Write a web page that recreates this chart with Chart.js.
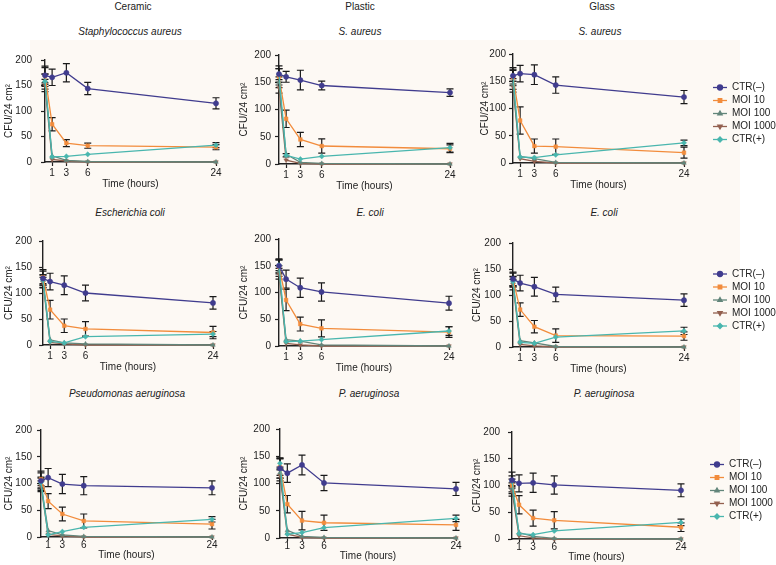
<!DOCTYPE html>
<html>
<head>
<meta charset="utf-8">
<script src="https://cdn.jsdelivr.net/npm/chart.js@4.4.1/dist/chart.umd.min.js"></script>
<style>
  body { margin: 0; width: 776px; height: 565px; position: relative; background: #fff; overflow: hidden;
         font-family: "Liberation Sans", Arial, sans-serif; }
  .tint { position: absolute; left: 30px; top: 40px; width: 710px; height: 525px; background: #fdf9f4; }
  .lbl { position: absolute; font-size: 10px; color: #222; transform: translate(-50%, -50%); white-space: nowrap; }
  .ttl { font-style: italic; }
  canvas { position: absolute; }
</style>
</head>
<body>
<div class="tint"></div>
<div id="root"></div>
<script>
const times = [0, 1, 3, 6, 24];
const xTicks = [1, 3, 6, 24];
const yTicks = [0, 50, 100, 150, 200];
const seriesNames = ["CTR(–)", "MOI 10", "MOI 100", "MOI 1000", "CTR(+)"];
const surfaces = ["Ceramic", "Plastic", "Glass"];
const organismTitles = [
    ["Staphylococcus aureus", "S. aureus", "S. aureus"],
    ["Escherichia coli", "E. coli", "E. coli"],
    ["Pseudomonas aeruginosa", "P. aeruginosa", "P. aeruginosa"],
];

// rows: CTR(-), MOI 10, MOI 100, MOI 1000, CTR(+); columns follow `times`
const ceramicSaureus = [[170, 166, 175, 144, 115], [170, 74, 37, 32, 29], [160, 12, 3, 1, 0], [150, 5, 2, 0, 0], [158, 10, 11, 15, 33]];
const ceramicSaureusErr = [[18, 16, 18, 12, 11], [15, 13, 7, 5, 5], [12, 0, 0, 0, 0], [12, 0, 0, 0, 0], [15, 0, 0, 0, 5]];
const plasticSaureus = [[165, 160, 154, 144, 131], [160, 83, 45, 33, 28], [150, 18, 3, 1, 0], [140, 7, 1, 0, 0], [165, 16, 9, 14, 30]];
const plasticSaureusErr = [[15, 10, 18, 8, 7], [15, 16, 13, 13, 7], [10, 0, 0, 0, 0], [10, 0, 0, 0, 0], [10, 3, 0, 0, 8]];
const glassSaureus = [[160, 164, 162, 143, 121], [157, 78, 31, 30, 19], [145, 12, 8, 1, 0], [140, 8, 3, 0, 0], [160, 11, 10, 15, 37]];
const glassSaureusErr = [[15, 15, 18, 15, 12], [15, 25, 13, 14, 10], [10, 0, 0, 0, 0], [10, 0, 0, 0, 0], [10, 0, 0, 0, 5]];

const ceramicEcoli = [[128, 122, 115, 100, 81], [130, 68, 37, 31, 24], [125, 10, 4, 2, 0], [120, 5, 2, 0, 0], [125, 7, 4, 16, 21]];
const ceramicEcoliErr = [[17, 16, 18, 15, 12], [12, 18, 13, 14, 12], [10, 0, 0, 0, 0], [10, 0, 0, 0, 0], [10, 0, 0, 0, 5]];
const plasticEcoli = [[150, 125, 109, 101, 80], [148, 86, 41, 33, 26], [140, 12, 9, 2, 0], [135, 5, 2, 0, 0], [151, 8, 9, 12, 28]];
const plasticEcoliErr = [[13, 17, 18, 17, 13], [13, 20, 13, 16, 10], [10, 0, 0, 0, 0], [10, 0, 0, 0, 0], [10, 0, 0, 0, 8]];
const glassEcoli = [[131, 123, 116, 101, 90], [130, 72, 39, 22, 21], [125, 12, 8, 1, 0], [120, 5, 2, 0, 0], [126, 9, 7, 19, 31]];
const glassEcoliErr = [[13, 15, 18, 14, 12], [12, 13, 12, 13, 8], [10, 0, 0, 0, 0], [10, 0, 0, 0, 0], [10, 0, 0, 0, 7]];

const ceramicPaer = [[105, 111, 99, 96, 92], [108, 67, 43, 30, 24], [100, 12, 4, 1, 0], [95, 5, 2, 0, 0], [102, 4, 10, 18, 33]];
const ceramicPaerErr = [[18, 17, 18, 17, 13], [12, 14, 13, 13, 9], [10, 0, 0, 0, 0], [10, 0, 0, 0, 0], [10, 0, 0, 0, 5]];
const plasticPaer = [[128, 119, 134, 101, 90], [130, 62, 32, 28, 24], [120, 14, 3, 1, 0], [115, 7, 1, 0, 0], [137, 7, 10, 19, 36]];
const plasticPaerErr = [[18, 17, 18, 14, 12], [15, 16, 17, 14, 10], [10, 0, 0, 0, 0], [10, 0, 0, 0, 0], [10, 0, 0, 0, 6]];
const glassPaer = [[110, 104, 105, 101, 91], [100, 64, 39, 35, 22], [95, 12, 5, 1, 0], [90, 6, 2, 0, 0], [108, 10, 8, 15, 31]];
const glassPaerErr = [[15, 16, 18, 17, 12], [12, 17, 15, 16, 8], [10, 0, 0, 0, 0], [10, 0, 0, 0, 0], [10, 0, 0, 0, 6]];

const panelMeans = [ceramicSaureus, plasticSaureus, glassSaureus, ceramicEcoli, plasticEcoli, glassEcoli, ceramicPaer, plasticPaer, glassPaer];
const panelErrors = [ceramicSaureusErr, plasticSaureusErr, glassSaureusErr, ceramicEcoliErr, plasticEcoliErr, glassEcoliErr, ceramicPaerErr, plasticPaerErr, glassPaerErr];

const cores = ["#403c8e", "#f28c3c", "#62857a", "#93604f", "#49b6ae"];
const estilos = ["circle", "rect", "triangle", "triangle", "rectRot"];
const rotacoes = [0, 0, 0, 180, 0];
const ordem = [0, 2, 3, 4, 1]; // teal drawn over the MOI 100/1000 lines

// plot area in page pixels: left, right, top, bottom, y-title centre x, y-label right edge
const caixas = [
    [45, 216, 53, 162, 9, 32], [279, 450, 53, 164, 244, 271], [513, 684, 53, 163, 485, 506],
    [43, 213, 236, 345, 9, 32], [279, 449, 237, 346, 244, 271], [513, 684, 237, 347, 477, 501],
    [41, 212, 427, 537, 9, 32], [280, 456, 425, 538, 244, 270], [512, 681, 426, 539, 477, 500],
];
const offRotulo = [11, 11, 8];
const offTitulo = [22, 22, 18];
const tituloY = [31, 212, 393];
const tituloX = [[130, 360, 600], [130, 370, 604], [127, 369, 604]];
const cabecalhoX = [133, 360, 602];

Chart.defaults.font.family = "'Liberation Sans', Arial, sans-serif";
Chart.defaults.font.size = 10;
Chart.defaults.color = "#222";

const barrasErro = {
    id: "barrasErro",
    beforeDatasetsDraw(chart) {
        const { ctx, scales: { x, y } } = chart;
        ctx.save();
        ctx.strokeStyle = "#1a1a1a";
        ctx.lineWidth = 1.2;
        chart.data.datasets.forEach((ds) => {
            ds.errors.forEach((err, i) => {
                if (!err) return;
                const ponto = ds.data[i];
                const px = x.getPixelForValue(ponto.x);
                const topo = y.getPixelForValue(ponto.y + err);
                const base = y.getPixelForValue(Math.max(ponto.y - err, 0));
                ctx.beginPath();
                ctx.moveTo(px, topo);
                ctx.lineTo(px, base);
                ctx.moveTo(px - 3.5, topo);
                ctx.lineTo(px + 3.5, topo);
                ctx.moveTo(px - 3.5, base);
                ctx.lineTo(px + 3.5, base);
                ctx.stroke();
            });
        });
        ctx.restore();
    },
};

const legendaLateral = {
    id: "legendaLateral",
    afterDraw(chart, args, opts) {
        if (!opts.show) return;
        const { ctx, chartArea } = chart;
        const meio = (chartArea.top + chartArea.bottom) / 2 + 5;
        const x0 = chartArea.right + 29;
        ctx.save();
        chart.data.datasets.forEach((ds, i) => {
            const yy = meio + (i - 2) * 13;
            ctx.strokeStyle = ds.borderColor;
            ctx.lineWidth = 1.3;
            ctx.beginPath();
            ctx.moveTo(x0, yy);
            ctx.lineTo(x0 + 14, yy);
            ctx.stroke();
            ctx.fillStyle = ds.backgroundColor;
            Chart.helpers.drawPoint(ctx, { pointStyle: ds.pointStyle, rotation: ds.pointRotation, radius: 2.5, borderWidth: 0.5 }, x0 + 7, yy);
            ctx.fillStyle = "#222";
            ctx.font = "10px 'Liberation Sans', Arial, sans-serif";
            ctx.textBaseline = "middle";
            ctx.fillText(ds.label, x0 + 19, yy);
        });
        ctx.restore();
    },
};

const root = document.getElementById("root");

function addTexto(texto, x, y, classe) {
    const el = document.createElement("div");
    el.className = classe;
    el.textContent = texto;
    el.style.left = x + "px";
    el.style.top = y + "px";
    root.appendChild(el);
}

surfaces.forEach((s, c) => addTexto(s, cabecalhoX[c], 6, "lbl"));

caixas.forEach((caixa, p) => {
    const linha = Math.floor(p / 3);
    const coluna = p % 3;
    const [esq, dir, topo, base, yTitX, rotDir] = caixa;
    addTexto(organismTitles[linha][coluna], tituloX[linha][coluna], tituloY[linha], "lbl ttl");

    const canvasEsq = yTitX - 6;
    const canvasTopo = topo - 8;
    const larguraY = esq - canvasEsq;
    const padDir = coluna === 2 ? 776 - dir : 12;
    const alturaX = offTitulo[linha] + 6;
    const canvas = document.createElement("canvas");
    canvas.width = dir + padDir - canvasEsq;
    canvas.height = 8 + (base - topo) + alturaX;
    canvas.style.left = canvasEsq + "px";
    canvas.style.top = canvasTopo + "px";
    root.appendChild(canvas);

    const datasets = seriesNames.map((nome, s) => ({
        label: nome,
        data: times.map((t, i) => ({ x: t, y: panelMeans[p][s][i] })),
        errors: panelErrors[p][s],
        order: ordem[s],
        borderColor: cores[s],
        backgroundColor: cores[s],
        borderWidth: 1.3,
        pointStyle: estilos[s],
        pointRotation: rotacoes[s],
        pointRadius: 2.6,
        pointBorderWidth: 0.5,
        clip: false,
    }));

    new Chart(canvas, {
        type: "line",
        data: { datasets },
        options: {
            responsive: false,
            animation: false,
            layout: { padding: { top: 8, right: padDir, left: 0, bottom: 0 } },
            plugins: {
                legend: { display: false },
                tooltip: { enabled: false },
                legendaLateral: { show: coluna === 2 },
            },
            scales: {
                x: {
                    type: "linear",
                    min: 0,
                    max: 24,
                    afterBuildTicks: (sc) => { sc.ticks = xTicks.map((v) => ({ value: v })); },
                    afterFit: (sc) => { sc.height = alturaX; },
                    grid: { drawOnChartArea: false, tickLength: linha === 2 ? 3 : 4, tickWidth: 1.2, tickColor: "#222" },
                    border: { color: "#222", width: 1.4 },
                    ticks: { padding: offRotulo[linha] - (linha === 2 ? 9 : 10), maxRotation: 0, autoSkip: false },
                    title: { display: true, text: "Time (hours)", padding: 0 },
                },
                y: {
                    min: 0,
                    max: 200,
                    afterBuildTicks: (sc) => { sc.ticks = yTicks.map((v) => ({ value: v })); },
                    afterFit: (sc) => { sc.width = larguraY; },
                    grid: { drawOnChartArea: false, tickLength: 4, tickWidth: 1.2, tickColor: "#222" },
                    border: { color: "#222", width: 1.4 },
                    ticks: { padding: esq - 4 - rotDir },
                    title: { display: true, text: "CFU/24 cm²", padding: 0 },
                },
            },
        },
        plugins: [barrasErro, legendaLateral],
    });
});
</script>
</body>
</html>
